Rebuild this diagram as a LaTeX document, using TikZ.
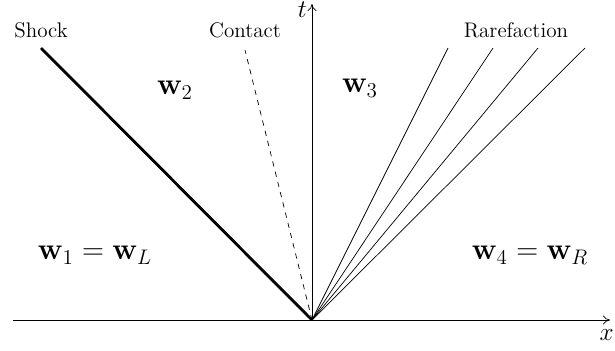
\documentclass[tikz,border=0pt]{standalone}
\usepackage{amsmath,amssymb}
\usepackage{bm}
\usetikzlibrary{positioning,arrows.meta,calc}

\begin{document}
\begin{tikzpicture}[
    wave/.style={thin},
    region/.style={font=\LARGE},
    tag/.style={font=\large},
    axis/.style={-{To[length=4pt,width=5pt]}}
  ]
  \useasboundingbox (-6.24,-0.6) rectangle (6.06,6.4);
  % Axes
  \coordinate (O) at (0,0);
  \coordinate (xl) at (-5.98,0);
  \coordinate (xr) at (5.96,0);
  \coordinate (ttop) at (0,6.32);
  \draw[axis] (xl) -- (xr);
  \draw[axis] (O) -- (ttop);
  \node[below left=0.06 and -0.2, font=\Large] (xlab) at (xr) {$x$};
  \node[left, font=\Large] (tlab) at (0.02,6.2) {$t$};
  % shock
  \coordinate (sh) at (-5.42,5.44);
  \draw[line width=1.6pt] (O) -- (sh);
  \node[tag] (shlab) at (-5.42,5.8) {Shock};
  % contact
  \coordinate (ct) at (-1.34,5.4);
  \draw[dashed] (O) -- (ct);
  \node[tag] (ctlab) at (-1.34,5.8) {Contact};
  % rarefaction fan
  \foreach \k/\xe in {1/2.72, 2/3.62, 3/4.52, 4/5.46} {
    \coordinate (rf\k) at (\xe,5.44);
    \draw[wave] (O) -- (rf\k);
  }
  \node[tag] (rflab) at (4.08,5.8) {Rarefaction};
  % states
  \node[region] (w1) at (-4.34,1.3) {$\mathbf{w}_1 = \mathbf{w}_L$};
  \node[region] (w2) at (-2.74,4.6) {$\mathbf{w}_2$};
  \node[region] (w3) at (0.96,4.64) {$\mathbf{w}_3$};
  \node[region] (w4) at (4.36,1.3) {$\mathbf{w}_4 = \mathbf{w}_R$};
\end{tikzpicture}
\end{document}
